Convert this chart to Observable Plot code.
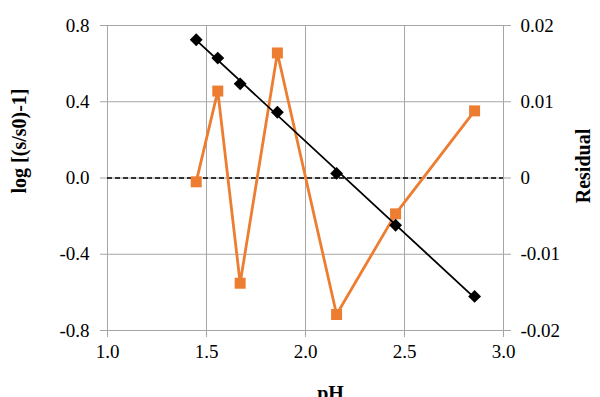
<!DOCTYPE html>
<html><head><meta charset="utf-8">
<script src="https://cdn.jsdelivr.net/npm/d3@7"></script>
<script src="https://cdn.jsdelivr.net/npm/@observablehq/plot@0.6"></script>
<style>
body{margin:0;background:#fff}
</style>
</head><body><div id="chart"></div>
<script>
const pH = [1.448, 1.557, 1.670, 1.858, 2.157, 2.455, 2.854];
const logValues = [0.725, 0.629, 0.494, 0.345, 0.024, -0.248, -0.621];
const residuals = [-0.0005, 0.0114, -0.0138, 0.0164, -0.0179, -0.0047, 0.0088];
const xTicks = [1.0, 1.5, 2.0, 2.5, 3.0];
const yTicks = [-0.8, -0.4, 0, 0.4, 0.8];
const residualLabels = ["-0.02", "-0.01", "0", "0.01", "0.02"];
const residualScale = 40; // 0.02 on right axis == 0.8 on left axis

const data = pH.map((x, i) => ({pH: x, log: logValues[i], res: residuals[i] * residualScale}));

const grid = "#a6a6a6";
const orange = "#ED7D31";
const serif = "Liberation Serif";

const chart = Plot.plot({
  width: 600,
  height: 397,
  marginLeft: 107,
  marginRight: 97,
  marginTop: 25,
  marginBottom: 67,
  style: {fontFamily: serif, fontSize: "19px", background: "#fff", color: "black"},
  x: {domain: [1, 3], label: null},
  y: {domain: [-0.8, 0.8], label: null},
  marks: [
    Plot.gridX(xTicks, {stroke: grid, strokeOpacity: 1}),
    Plot.gridY(yTicks, {stroke: grid, strokeOpacity: 1}),
    Plot.axisX(xTicks, {tickSize: 7, stroke: grid, tickFormat: () => "", label: null}),
    Plot.axisY(yTicks, {anchor: "left", tickSize: 7, stroke: grid, tickFormat: () => "", label: null}),
    Plot.axisY(yTicks, {anchor: "right", tickSize: 7, stroke: grid, tickFormat: () => "", label: null}),
    Plot.text(xTicks, {x: d => d, text: d => d.toFixed(1), frameAnchor: "bottom", dy: 14, lineAnchor: "top", textAnchor: "middle", fontFamily: serif, fontSize: 19, fill: "black"}),
    Plot.text(yTicks, {y: d => d, text: d => d.toFixed(1), frameAnchor: "left", dx: -18, lineAnchor: "middle", textAnchor: "end", fontFamily: serif, fontSize: 19, fill: "black"}),
    Plot.text(yTicks, {y: d => d, text: (d, i) => residualLabels[i], frameAnchor: "right", dx: 17, lineAnchor: "middle", textAnchor: "start", fontFamily: serif, fontSize: 19, fill: "black"}),
    Plot.ruleY([0], {stroke: "black", strokeDasharray: "5,3", strokeWidth: 1.3}),
    Plot.line(data, {x: "pH", y: "res", stroke: orange, strokeWidth: 2.8}),
    Plot.dot(data, {x: "pH", y: "res", symbol: "square", r: 6.2, fill: orange, stroke: "none"}),
    Plot.linearRegressionY(data, {x: "pH", y: "log", ci: 0, stroke: "black", strokeWidth: 1.8}),
    Plot.dot(data, {x: "pH", y: "log", symbol: "diamond2", r: 5.8, fill: "black", stroke: "none"}),
    Plot.text(["log [(s/s0)-1]"], {text: d => d, frameAnchor: "left", dx: -88, dy: -37, rotate: -90, fontFamily: serif, fontWeight: "bold", fontSize: 20, textAnchor: "middle", lineAnchor: "middle", fill: "black"}),
    Plot.text(["Residual"], {text: d => d, frameAnchor: "right", dx: 80, dy: -12, rotate: -90, fontFamily: serif, fontWeight: "bold", fontSize: 20, textAnchor: "middle", lineAnchor: "middle", fill: "black"}),
    Plot.text(["pH"], {text: d => d, frameAnchor: "bottom", dx: 25, dy: 69, fontFamily: serif, fontWeight: "bold", fontSize: 20, textAnchor: "middle", lineAnchor: "bottom", fill: "black"})
  ]
});
document.getElementById("chart").appendChild(chart);
</script>
</body></html>
